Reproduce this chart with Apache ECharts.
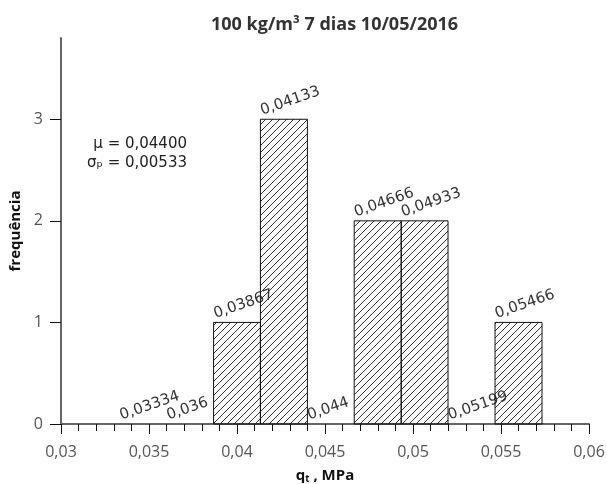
<!DOCTYPE html>
<html>
<head>
<meta charset="utf-8">
<script src="https://cdn.jsdelivr.net/npm/echarts@6/dist/echarts.min.js"></script>
<style>
html,body{margin:0;padding:0;background:#fff;}
#chart{width:607px;height:484px;}
</style>
</head>
<body>
<div id="chart"></div>
<script>
// ---- data ----
var binStart  = [0.03334, 0.036, 0.03867, 0.04133, 0.044, 0.04666, 0.04933, 0.05199, 0.05466];
var binEnd    = [0.036, 0.03867, 0.04133, 0.044, 0.04666, 0.04933, 0.05199, 0.05466, 0.05733];
var counts    = [0, 0, 1, 3, 0, 2, 2, 0, 1];
var binLabels = ['0,03334', '0,036', '0,03867', '0,04133', '0,044', '0,04666', '0,04933', '0,05199', '0,05466'];
var yTicks    = [0, 1, 2, 3];
var titleText = '100 kg/m³ 7 dias 10/05/2016';
var statLines = ['μ = 0,04400', 'σₚ = 0,00533'];

// hatch pattern
var hatch = document.createElement('canvas');
hatch.width = 7; hatch.height = 7;
(function () {
  var c = hatch.getContext('2d');
  c.strokeStyle = '#333';
  c.lineWidth = 1;
  c.beginPath();
  for (var k = -1; k <= 1; k++) {
    c.moveTo(-1 + k * 7, 8);
    c.lineTo(8 + k * 7, -1);
  }
  c.stroke();
})();
var hatchPattern = { image: hatch, repeat: 'repeat' };

var data = binStart.map(function (s, i) { return [s, binEnd[i], counts[i], binLabels[i]]; });

var chart = echarts.init(document.getElementById('chart'));
chart.setOption({
  animation: false,
  backgroundColor: '#fff',
  title: {
    text: titleText,
    left: 206, top: 11,
    textStyle: { fontFamily: 'Open Sans', fontWeight: 'bold', fontSize: 18, color: '#333' }
  },
  grid: { left: 61, right: 18, top: 38, bottom: 60, containLabel: false, outerBoundsMode: 'none' },
  xAxis: {
    type: 'value', min: 0.03, max: 0.06, interval: 0.005,
    name: 'qₜ , MPa', nameLocation: 'middle', nameGap: 44,
    nameTextStyle: { fontFamily: 'Open Sans', fontWeight: 'bold', fontSize: 15, color: '#111' },
    axisLine: { show: true, lineStyle: { color: '#666', width: 2 } },
    axisTick: { show: true, length: 10, lineStyle: { color: '#111', width: 1 } },
    minorTick: { show: true, splitNumber: 5, length: 7, lineStyle: { color: '#111', width: 1 } },
    splitLine: { show: false },
    axisLabel: {
      margin: 20, fontFamily: 'Open Sans', fontSize: 16, color: '#555',
      formatter: function (v) { return String(+v.toFixed(4)).replace('.', ','); }
    }
  },
  yAxis: {
    type: 'value', min: 0, max: 3.8, interval: 1,
    name: 'frequência', nameLocation: 'middle', nameGap: 32,
    nameTextStyle: { fontFamily: 'Open Sans', fontWeight: 'bold', fontSize: 15, color: '#111' },
    axisLine: { show: true, lineStyle: { color: '#666', width: 2 } },
    axisTick: { show: true, length: 11, customValues: yTicks, lineStyle: { color: '#111', width: 1 } },
    splitLine: { show: false },
    axisLabel: { margin: 18, fontFamily: 'Open Sans', fontSize: 16, color: '#555', customValues: yTicks }
  },
  graphic: [
    { type: 'text', right: 607 - 187, top: 137, style: { text: statLines[0], font: '15px "DejaVu Sans"', fill: '#222', align: 'right' } },
    { type: 'text', right: 607 - 187, top: 156, style: { text: statLines[1], font: '15px "DejaVu Sans"', fill: '#222', align: 'right' } }
  ],
  series: [{
    type: 'custom',
    clip: false,
    data: data,
    encode: { x: [0, 1], y: 2 },
    renderItem: function (params, api) {
      var s = api.value(0), e = api.value(1), c = api.value(2);
      var label = binLabels[params.dataIndex];
      var p0 = api.coord([s, c]);
      var p1 = api.coord([e, 0]);
      var children = [];
      if (c > 0) {
        children.push({
          type: 'rect',
          shape: { x: p0[0], y: p0[1], width: p1[0] - p0[0], height: p1[1] - p0[1] },
          style: { fill: hatchPattern, stroke: '#111', lineWidth: 1 }
        });
      }
      children.push({
        type: 'text',
        x: p0[0] + 3, y: p0[1] - 1,
        rotation: 19 * Math.PI / 180,
        style: { text: label, font: '15px "DejaVu Sans"', fill: '#333', align: 'left', verticalAlign: 'bottom' }
      });
      return { type: 'group', children: children };
    }
  }]
});
</script>
</body>
</html>
